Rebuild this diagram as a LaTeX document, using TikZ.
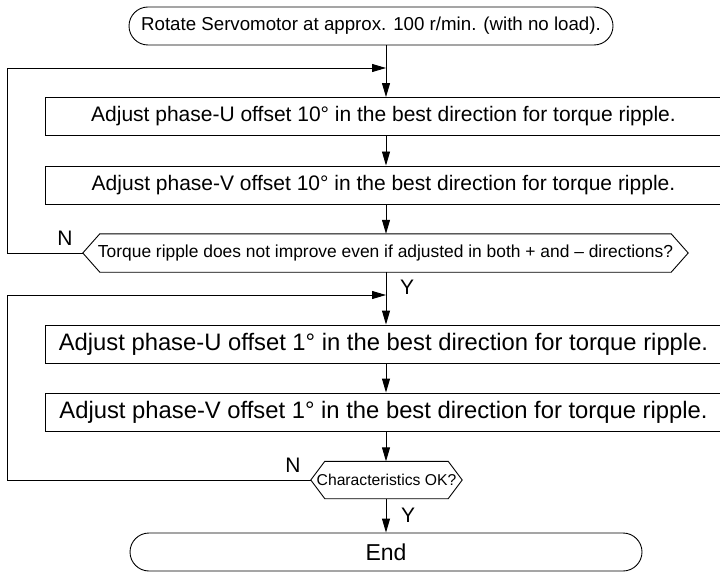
\documentclass[tikz,border=0pt]{standalone}
\usepackage{fontspec}
\setmainfont{Liberation Sans}
\usetikzlibrary{arrows.meta,positioning}

\begin{document}
\begin{tikzpicture}[x=1pt,y=-1pt,
    flow/.style={-{Triangle[length=14pt,width=8pt]}, line width=0.9pt},
    line/.style={line width=0.9pt},
    stepbox/.style={draw, line width=0.9pt, minimum width=677pt, minimum height=38pt, inner sep=0pt},
    termbox/.style={draw, line width=0.9pt, rounded corners=19pt, minimum height=38pt, inner sep=0pt},
    testbox/.style={minimum height=38pt, inner sep=0pt},
    yn/.style={font=\fontsize{21}{21}\selectfont, inner sep=0pt}]
  \useasboundingbox (0,0) rectangle (720,572);

  % Start
  \node[termbox, minimum width=484pt, font=\fontsize{18.7}{20}\selectfont] (start) at (371,26) {Rotate Servomotor at approx. 100 r/min. (with no load).};

  % Junctions on the main line and left return line
  \coordinate (j1) at (386,68);
  \coordinate (j2) at (386,295);
  \coordinate (lft) at (7,0);

  % Coarse adjustment
  \node[stepbox, font=\fontsize{21}{22}\selectfont] (u10) at (383.5,116.5) {Adjust phase-U offset 10° in the best direction for torque ripple.};
  \node[stepbox, font=\fontsize{21}{22}\selectfont] (v10) at (383.5,185) {Adjust phase-V offset 10° in the best direction for torque ripple.};
  \node[testbox, minimum width=605pt, font=\fontsize{17.4}{18}\selectfont] (dec1) at (385.5,253) {Torque ripple does not improve even if adjusted in both + and – directions?};

  % Fine adjustment
  \node[stepbox, font=\fontsize{23.8}{25}\selectfont] (u1) at (383.5,344) {Adjust phase-U offset 1° in the best direction for torque ripple.};
  \node[stepbox, font=\fontsize{23.8}{25}\selectfont] (v1) at (383.5,412) {Adjust phase-V offset 1° in the best direction for torque ripple.};
  \node[testbox, minimum width=151pt, minimum height=37pt, font=\fontsize{15.7}{16}\selectfont] (dec2) at (386.5,480) {Characteristics OK?};

  % End
  \node[termbox, minimum width=512pt, font=\fontsize{23}{24}\selectfont] (stop) at (386,552) {End};

  % Hexagon outlines of the decisions
  \foreach \d/\c in {dec1/17, dec2/14}
    \draw[line] (\d.west) -- ([xshift=\c pt]\d.north west) -- ([xshift=-\c pt]\d.north east)
      -- (\d.east) -- ([xshift=-\c pt]\d.south east) -- ([xshift=\c pt]\d.south west) -- cycle;

  % Main line
  \draw[line] (j1 |- start.south) -- (j1);
  \draw[flow] (j1) -- (j1 |- u10.north);
  \draw[flow] (j1 |- u10.south) -- (j1 |- v10.north);
  \draw[flow] (j1 |- v10.south) -- (j1 |- dec1.north);
  \draw[line] (j1 |- dec1.south) -- (j2);
  \draw[flow] (j2) -- (j2 |- u1.north);
  \draw[flow] (j2 |- u1.south) -- (j2 |- v1.north);
  \draw[flow] (j2 |- v1.south) -- (j2 |- dec2.north);
  \draw[flow] (j2 |- dec2.south) -- (j2 |- stop.north);

  % Return loops
  \draw[flow] (dec1.west) -- (dec1.west -| lft) |- (j1);
  \draw[flow] (dec2.west) -- (dec2.west -| lft) |- (j2);

  % Y / N
  \node[yn] (n1) at (65,238) {N};
  \node[yn] (y1) at (407,287) {Y};
  \node[yn] (n2) at (293,465) {N};
  \node[yn] (y2) at (408,515) {Y};
\end{tikzpicture}
\end{document}
